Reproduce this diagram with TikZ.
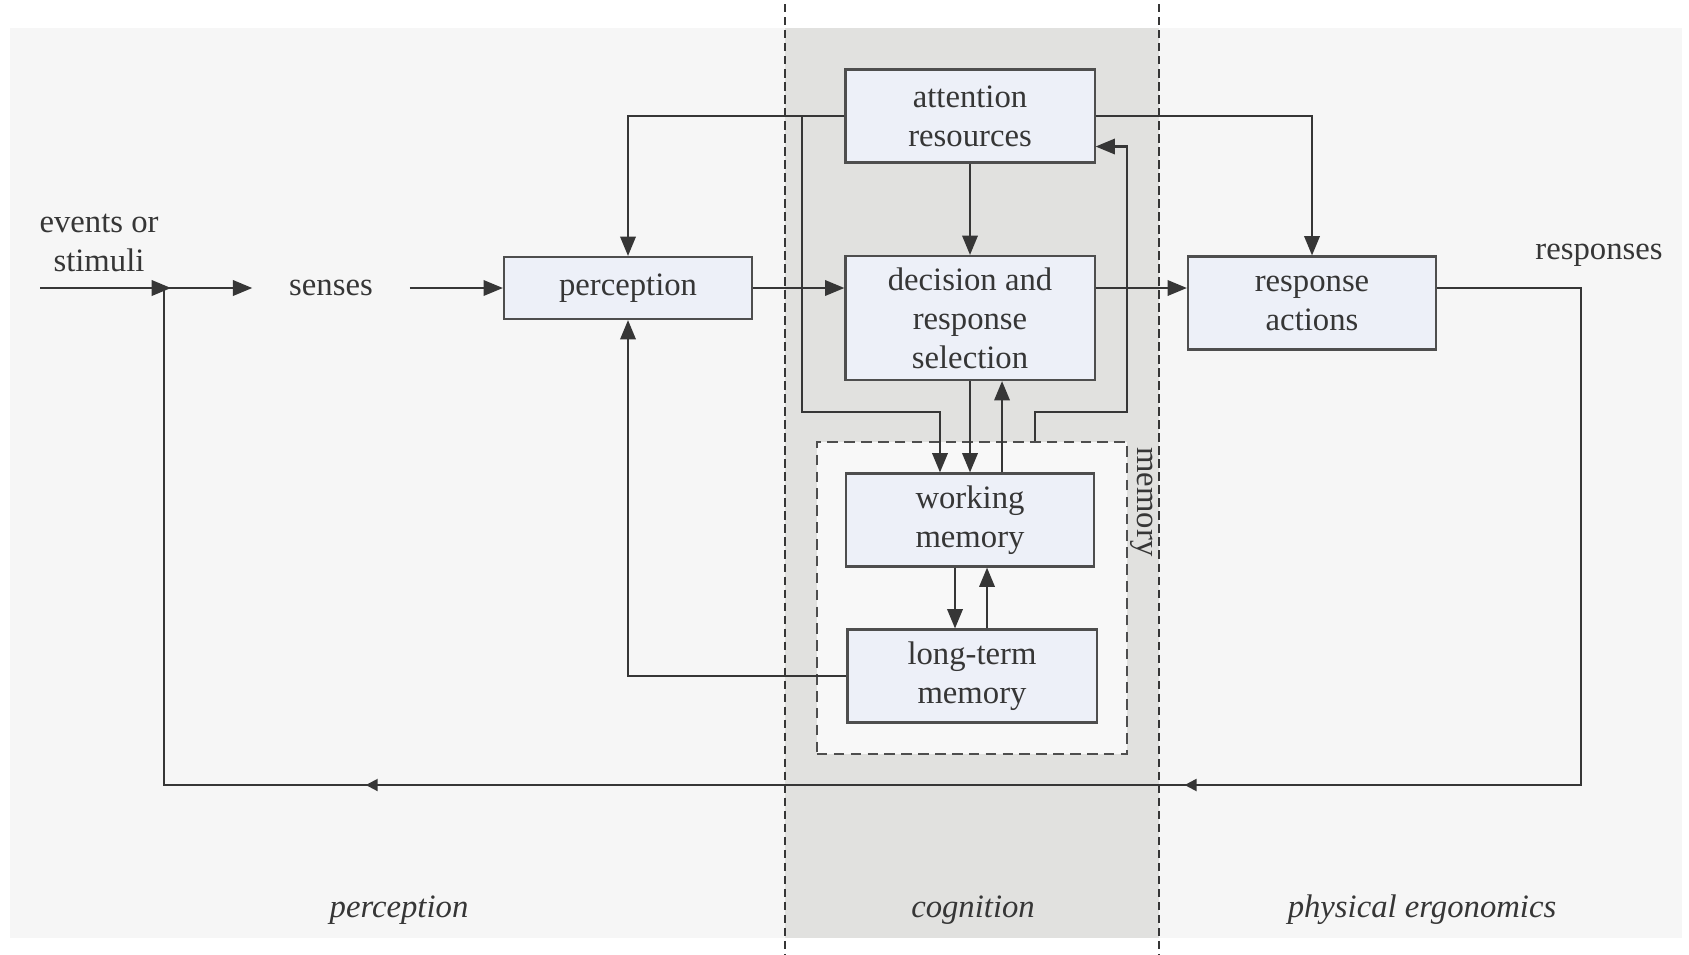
\documentclass[tikz,border=0pt]{standalone}
\usepackage{fontspec}
\setmainfont{Liberation Serif}
\usetikzlibrary{arrows.meta,decorations.markings}

\definecolor{bgpanel}{HTML}{F6F6F6}
\definecolor{cogband}{HTML}{E1E1DF}
\definecolor{boxfill}{HTML}{EDF0F8}
\definecolor{boxdraw}{HTML}{4E4E4E}
\definecolor{linecol}{HTML}{363636}
\definecolor{txt}{HTML}{363636}
\definecolor{memfill}{HTML}{F8F8F8}

\tikzset{
  midtip/.tip={Triangle[length=3.4pt,width=3.4pt]},
  every node/.style={font=\fontsize{9.3}{11.1}\selectfont, text=txt},
  stagebox/.style={draw=boxdraw, line width=0.6pt, fill=boxfill, align=center,
    minimum width=2.49cm, minimum height=0.93cm, inner sep=1pt},
  plain/.style={align=center, inner sep=1pt},
  zonelabel/.style={font=\fontsize{9.3}{11.1}\selectfont\itshape},
  line/.style={draw=linecol, line width=0.6pt},
  conn/.style={line, -{Triangle[length=5.5pt,width=4.4pt]}},
  zoneline/.style={draw=linecol, line width=0.45pt, dash pattern=on 2.4pt off 1.3pt},
  memframe/.style={draw=boxdraw, line width=0.55pt, dash pattern=on 3pt off 1.8pt,
    fill=memfill, minimum width=3.10cm, minimum height=3.12cm, inner sep=0pt}
}

\begin{document}
\begin{tikzpicture}[x=0.01cm,y=-0.01cm]
\useasboundingbox (0,0) rectangle (1689,954);
\fill[white] (0,0) rectangle (1689,954);

% panels: perception / cognition / physical ergonomics
\fill[bgpanel] (10,28) rectangle (1682,938);
\fill[cogband] (785,28) rectangle (1159,938);
\draw[zoneline] (785,4) -- (785,954);
\draw[zoneline] (1159,4) -- (1159,954);

% memory group
\node[memframe] (mem) at (972,598) {};
\node[rotate=-90, inner sep=0pt] (memlbl) at (1142,502) {memory};

% processing stages
\node[stagebox] (att)  at (970,116) {attention\\resources};
\node[stagebox, minimum height=1.24cm] (dec) at (970,318) {decision and\\response\\selection};
\node[stagebox, minimum width=2.48cm, minimum height=0.62cm] (perc) at (628,288) {perception};
\node[stagebox, minimum width=2.48cm] (ra) at (1312,303) {response\\actions};
\node[stagebox, minimum width=2.48cm] (wm) at (970,520) {working\\memory};
\node[stagebox] (ltm) at (972,676) {long-term\\memory};

% free labels
\node[plain] (ev) at (99,243) {events or\\stimuli};
\node[plain, minimum width=1.56cm] (senses) at (331,288) {senses};
\node[plain] (resp) at (1599,255) {responses};
\node[zonelabel] (zp) at (399,910) {perception};
\node[zonelabel] (zc) at (973,910) {cognition};
\node[zonelabel] (zpe) at (1422,910) {physical ergonomics};

% helper points
\coordinate (evin) at (40,288);
\coordinate (tapA) at (802,116);
\coordinate (busY) at (0,412);
\coordinate (loopR) at (1127,412);
\coordinate (fbA) at (1581,785);
\coordinate (fbB) at (164,785);
\coordinate (join) at (164,288);

% input chain
\draw[conn] (evin) -- (evin -| senses.west);
\draw[conn] (senses.east) -- (senses.east -| perc.west);
\draw[conn] (perc.east) -- (perc.east -| dec.west);
\draw[conn] (perc.east -| dec.east) -- (perc.east -| ra.west);

% attention resources
\draw[conn] (att.west) -| (perc.north);
\draw[conn] (att.east) -| (ra.north);
\draw[conn] (att.south) -- (dec.north);
\draw[conn] (tapA) -- (tapA |- busY) -| ([xshift=-0.30cm]wm.north);

% decision <-> memory
\draw[conn] (dec.south) -- (wm.north);
\draw[conn] ([xshift=0.32cm]wm.north) -- ([xshift=0.32cm]dec.south);
\draw[conn] ([xshift=0.63cm]mem.north) |- (loopR) |- ([yshift=-0.305cm]att.east);

% working <-> long-term memory
\draw[conn] ([xshift=-0.15cm]wm.south) -- ([xshift=-0.15cm]wm.south |- ltm.north);
\draw[conn] ([xshift=0.17cm]wm.south |- ltm.north) -- ([xshift=0.17cm]wm.south);
\draw[conn] (ltm.west) -| (perc.south);

% feedback loop of responses
\draw[line, postaction={decorate}, decoration={markings,
    mark=at position 0.406 with {\arrow{midtip}},
    mark=at position 0.7265 with {\arrow{midtip}}}]
  (perc.east -| ra.east) -| (fbA) -- (fbB) -- (join);
\draw[conn] ([xshift=-0.11cm]join) -- ([xshift=0.07cm]join);
\end{tikzpicture}
\end{document}
